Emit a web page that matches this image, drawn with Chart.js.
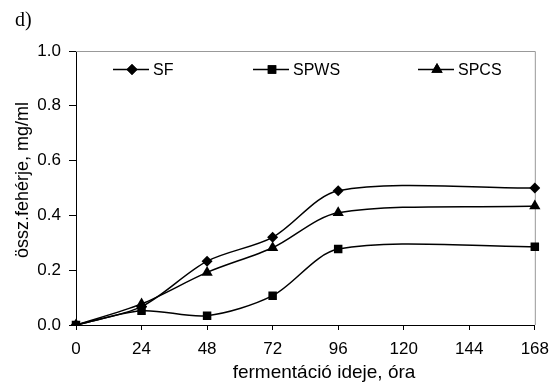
<!DOCTYPE html>
<html>
<head>
<meta charset="utf-8">
<script src="https://cdn.jsdelivr.net/npm/chart.js@4"></script>
<style>
  body { margin: 0; background: #fff; }
  #wrap { width: 558px; height: 383px; }
</style>
</head>
<body>
<div id="wrap"><canvas id="myChart" width="558" height="383"></canvas></div>
<script>
// fermentation time (h) and total protein (mg/ml)
var hours = ['0', '24', '48', '72', '96', '120', '144', '168'];
var sf   = [0, 0.067, 0.233, 0.32, 0.49, null, null, 0.50];
var spws = [0, 0.052, 0.034, 0.107, 0.277, null, null, 0.286];
var spcs = [0, 0.077, 0.192, 0.282, 0.41, null, null, 0.434];
var yTicks = [0, 0.2, 0.4, 0.6, 0.8, 1.0];

var FONT = 'Liberation Sans, Arial, sans-serif';

function series(label, values, style, r) {
  return {
    label: label,
    data: values,
    borderColor: '#000',
    backgroundColor: '#000',
    borderWidth: 1.5,
    pointStyle: style,
    pointRadius: r,
    pointBorderWidth: 0,
    tension: 0.3,
    spanGaps: true
  };
}

// frame on top/right, axis titles, the "d)" mark and the inline legend
var extras = {
  id: 'extras',
  beforeDatasetsDraw: function(chart) {
    var ctx = chart.ctx, a = chart.chartArea;
    ctx.save();
    ctx.strokeStyle = '#999';
    ctx.lineWidth = 1;
    ctx.beginPath();
    ctx.moveTo(a.left, a.top + 0.5);
    ctx.lineTo(a.right + 0.5, a.top + 0.5);
    ctx.lineTo(a.right + 0.5, a.bottom);
    ctx.stroke();
    ctx.restore();
  },
  afterDraw: function(chart) {
    var ctx = chart.ctx;
    ctx.save();
    ctx.fillStyle = '#000';
    ctx.font = '20px "Liberation Serif", "Times New Roman", serif';
    ctx.textBaseline = 'alphabetic';
    ctx.fillText('d)', 15, 26);

    // axis titles
    ctx.font = '19px ' + FONT;
    ctx.textAlign = 'center';
    ctx.fillText('fermentáció ideje, óra', 324, 378);
    ctx.save();
    ctx.translate(23, 180);
    ctx.rotate(-Math.PI / 2);
    ctx.font = '18px ' + FONT;
    ctx.textBaseline = 'middle';
    ctx.fillText('össz.fehérje, mg/ml', 0, 0);
    ctx.restore();
    ctx.textAlign = 'left';

    var startX = [113, 253, 418];
    var y = 69.5;
    chart.data.datasets.forEach(function(ds, i) {
      var x0 = startX[i];
      ctx.strokeStyle = '#000';
      ctx.lineWidth = 1.5;
      ctx.beginPath();
      ctx.moveTo(x0, y);
      ctx.lineTo(x0 + 36, y);
      ctx.stroke();
      Chart.helpers.drawPoint(ctx, {
        pointStyle: ds.pointStyle, radius: ds.pointRadius, rotation: 0, borderWidth: 0
      }, x0 + 19, y);
      ctx.fill();
      ctx.font = '16px ' + FONT;
      ctx.textBaseline = 'middle';
      ctx.fillText(ds.label, x0 + 40, y + 1);
    });
    ctx.restore();
  }
};

var ctx = document.getElementById('myChart').getContext('2d');
var myChart = new Chart(ctx, {
  type: 'line',
  data: {
    labels: hours,
    datasets: [
      series('SF', sf, 'rectRot', 5.5),
      series('SPWS', spws, 'rect', 6),
      series('SPCS', spcs, 'triangle', 6.5)
    ]
  },
  plugins: [extras],
  options: {
    responsive: false,
    animation: false,
    layout: { padding: { top: 51, right: 21, bottom: 0, left: 0 } },
    plugins: {
      legend: { display: false },
      tooltip: { enabled: false }
    },
    scales: {
      x: {
        offset: false,
        grid: { drawOnChartArea: false, drawTicks: true, tickLength: 5, color: '#000' },
        border: { color: '#000', width: 1 },
        ticks: { color: '#000', font: { family: FONT, size: 17 }, padding: 9, maxRotation: 0, autoSkip: false },
        afterFit: function(scale) { scale.height = 58; }
      },
      y: {
        min: 0,
        max: 1,
        afterBuildTicks: function(scale) {
          scale.ticks = yTicks.map(function(v) { return { value: v }; });
        },
        grid: { drawOnChartArea: false, drawTicks: true, tickLength: 7, color: '#000' },
        border: { color: '#000', width: 1 },
        ticks: {
          color: '#000', font: { family: FONT, size: 17 }, padding: 8,
          callback: function(v) { return v.toFixed(1); }
        },
        afterFit: function(scale) { scale.width = 76; }
      }
    }
  }
});
</script>
</body>
</html>
